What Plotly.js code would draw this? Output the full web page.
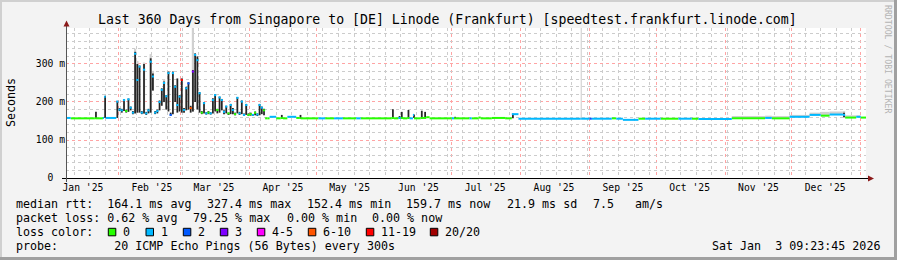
<!DOCTYPE html>
<html><head><meta charset="utf-8">
<script src="https://cdn.plot.ly/plotly-3.0.1.min.js"></script>
<style>html,body{margin:0;padding:0;background:#f3f3f3}#chart{width:897px;height:260px}</style>
</head><body><div id="chart"></div>
<script>
// ---------------- data ----------------
const rangeStart = '2025-01-08 09:23:45';
const rangeEnd   = '2026-01-03 09:23:45';

const lossLabels = ['0','1','2','3','4-5','6-10','11-19','20/20'];
const lossColors = ['#26ff00','#00b8ff','#0059ff','#7e00ff','#ff00ff','#ff5500','#ff0000','#a10000'];

const yTickVals = [0, 100, 200, 300];
const yTickText = ['0\u00a0\u00a0', '100 m', '200 m', '300 m'];

const monthLabelDates = ['2025-01-16','2025-02-16','2025-03-16','2025-04-16','2025-05-16','2025-06-16',
                         '2025-07-16','2025-08-16','2025-09-16','2025-10-16','2025-11-16','2025-12-16'];
const monthLabels = ["Jan '25","Feb '25","Mar '25","Apr '25","May '25","Jun '25",
                     "Jul '25","Aug '25","Sep '25","Oct '25","Nov '25","Dec '25"];

// sample times
const t = [
 '2025-01-08 09:23','2025-01-10 12:00','2025-01-21 09:00','2025-01-21 21:00','2025-01-25 00:00','2025-01-25 12:00','2025-01-26 06:00',
 '2025-01-31',
 '2025-02-01','2025-02-02','2025-02-03','2025-02-04','2025-02-05','2025-02-06','2025-02-07','2025-02-08','2025-02-09','2025-02-10',
 '2025-02-11','2025-02-12','2025-02-13','2025-02-14','2025-02-15','2025-02-16','2025-02-17','2025-02-18','2025-02-19','2025-02-20',
 '2025-02-21','2025-02-22','2025-02-23','2025-02-24','2025-02-25','2025-02-26','2025-02-27','2025-02-28',
 '2025-03-01','2025-03-02','2025-03-03','2025-03-04','2025-03-05','2025-03-06','2025-03-07','2025-03-08','2025-03-09','2025-03-10',
 '2025-03-11','2025-03-12','2025-03-13','2025-03-14','2025-03-15','2025-03-16','2025-03-17','2025-03-18','2025-03-19','2025-03-20',
 '2025-03-21','2025-03-22','2025-03-23','2025-03-24','2025-03-25','2025-03-26','2025-03-27','2025-03-28','2025-03-29','2025-03-30','2025-03-31',
 '2025-04-01','2025-04-02','2025-04-03','2025-04-04','2025-04-05','2025-04-06','2025-04-07','2025-04-08',
 '2025-04-09','2025-04-10','2025-04-13','2025-04-15','2025-04-16','2025-04-18','2025-04-22','2025-04-23 10:00','2025-04-24',
 '2025-05-02','2025-05-05','2025-05-09','2025-05-13','2025-05-19','2025-05-21',
 '2025-06-04','2025-06-05','2025-06-07','2025-06-08','2025-06-09','2025-06-11','2025-06-12','2025-06-13 12:00','2025-06-14',
 '2025-06-17','2025-06-18 12:00','2025-06-19 12:00','2025-06-21',
 '2025-07-01','2025-07-02','2025-07-09','2025-07-10','2025-07-13','2025-07-14','2025-07-19','2025-07-25','2025-07-28','2025-07-31',
 '2025-08-28','2025-08-28 12:00',
 '2025-09-01','2025-09-02','2025-09-11','2025-09-13','2025-09-16','2025-09-23','2025-09-26',
 '2025-10-03','2025-10-11','2025-10-17','2025-10-20',
 '2025-11-04','2025-11-19','2025-11-22','2025-11-30',
 '2025-12-09','2025-12-14','2025-12-18','2025-12-24','2025-12-25','2025-12-30','2026-01-01'
];

// median rtt (ms)
const med = [
 158,157,157,157,158,214,158,
 201,
 180,178,205,176,207,185,172,327,258,293,
 172,285,170,178,306,267,172,176,200,232,
 250,215,276,166,276,240,192,214,
 258,179,236,249,184,280,324,310,223,172,
 197,170,172,170,205,218,179,212,205,174,
 188,170,192,179,168,211,170,201,166,192,166,
 168,166,172,167,192,185,178,157,
 157,161,157,158,157,161,158,158,157,
 157,157,157,157,157,157,
 158,157,158,158,157,158,157,166,157,
 158,158,160,157,
 157,157,157,157,159,157,158,157,168,156,
 156,156,
 156,156,157,156,153,156,156,
 156,156,156,155,
 157,158,157,161,
 166,164,167,166,159,161,159
];

// loss class index (into lossLabels)
const loss = [
 1,0,0,0,1,1,1,
 1,
 1,1,1,0,1,1,1,1,1,1,
 1,1,1,1,1,1,1,1,1,1,
 1,1,1,2,1,1,1,1,
 6,1,1,2,5,3,1,1,1,0,
 1,1,0,1,1,1,0,1,1,1,
 1,0,1,1,0,1,1,1,1,1,0,
 0,1,0,1,1,1,0,0,
 0,1,0,0,0,1,0,0,0,
 1,0,1,0,1,0,
 0,0,1,0,0,0,1,1,0,
 0,0,0,0,
 1,0,1,0,0,0,0,0,1,1,
 1,1,
 2,1,0,1,1,0,1,
 0,1,0,1,
 0,1,0,1,
 1,0,1,1,0,1,0
];

// dark smoke low / high (ms)
const smLo = [
 null,null,156,null,null,158,null,
 158,
 176,172,176,172,174,178,168,170,172,172,
 168,170,166,170,172,230,168,170,178,190,
 200,180,175,164,168,200,172,175,
 172,172,178,180,172,175,200,180,172,168,
 170,167,168,167,170,175,170,172,178,168,
 170,166,168,168,165,170,166,168,164,166,163,
 164,163,165,163,165,168,165,null,
 null,null,null,156,null,null,null,156,null,
 null,null,null,null,null,null,
 156,null,156,156,null,156,null,158,null,
 156,156,null,null,
 null,156,null,null,null,null,156,null,157,null,
 null,null,
 null,null,null,null,null,null,null,
 null,null,null,null,
 null,null,null,null,
 null,null,null,160,null,null,null
];
const smHi = [
 null,null,174,null,null,216,null,
 203,
 184,182,207,180,209,188,176,332,300,296,
 176,300,174,182,315,275,176,180,204,236,
 254,218,280,172,280,244,262,218,
 262,184,240,252,190,284,328,320,226,176,
 200,173,176,173,210,220,182,214,208,178,
 190,172,195,184,172,213,174,204,170,195,170,
 172,168,175,170,195,188,182,null,
 null,null,null,166,null,null,null,166,null,
 null,null,null,null,null,null,
 181,null,163,174,null,179,null,167,null,
 177,174,null,null,
 null,161,null,null,null,null,160,null,169,null,
 null,null,
 null,null,null,null,null,null,null,
 null,null,null,null,
 null,null,null,null,
 null,null,null,172,null,null,null
];
// light (outer) smoke top (ms)
const greyHi = [
 null,null,null,null,null,null,null,
 null,
 null,null,null,null,null,null,null,340,308,null,
 null,304,null,null,326,282,null,null,null,null,
 260,null,null,null,null,null,null,null,
 null,null,null,null,null,400,null,null,null,null,
 null,null,null,null,null,null,null,null,null,null,
 null,null,null,null,null,null,null,null,null,null,null,
 null,null,null,null,null,null,null,null,
 null,null,null,null,null,null,null,null,null,
 null,null,null,null,null,null,
 null,null,null,null,null,null,null,null,null,
 null,null,null,null,
 null,null,null,null,null,null,null,null,null,null,
 400,null,
 null,null,null,null,null,null,null,
 null,null,null,null,
 163,164,163,166,
 172,174,175,176,165,165,null
];

// text
const titleText = 'Last 360 Days from Singapore to [DE] Linode (Frankfurt) [speedtest.frankfurt.linode.com]';
const yTitle = 'Seconds';
const rttStats  = ['median rtt:  164.1 ms avg', '327.4 ms max', '152.4 ms min', '159.7 ms now', '21.9 ms sd', '7.5', 'am/s'];
const lossStats = ['packet loss: 0.62 % avg', '79.25 % max', '0.00 % min', '0.00 % now'];
const lossColorLabel = 'loss color:';
const probeText = 'probe:        20 ICMP Echo Pings (56 Bytes) every 300s';
const stampText = 'Sat Jan  3 09:23:45 2026';
const creditText = 'RRDTOOL / TOBI OETIKER';

// ---------------- layout helpers ----------------
const FONT = 'DejaVu Sans Mono';
const L = 66, T = 28, W = 800, H = 150;
const px = x => (x - L) / W;
const py = y => (T + H - y) / H;

function ms(s){
  const p = s.split(' ');
  let tm = p[1] || '00:00';
  if (tm.length === 5) tm += ':00';
  return Date.parse(p[0] + 'T' + tm + 'Z');
}
const endMs = ms(rangeEnd);
const tMs = t.map(ms);
const dur = tMs.map((v, i) => (i < tMs.length - 1 ? tMs[i + 1] : endMs) - v);
const tNext = t.map((v, i) => i < t.length - 1 ? t[i + 1] : rangeEnd);
const DAY = 86400000;

const traces = [];
// light smoke (main x axis, drawn first / lowest)
{
  const x = [], base = [], h = [], w = [];
  greyHi.forEach((g, i) => {
    if (g == null) return;
    const b = Math.min(med[i], smLo[i] == null ? med[i] : smLo[i]) - 1;
    x.push(t[i]); base.push(b); h.push(g - b); w.push(dur[i]);
  });
  traces.push({type:'bar', x, y:h, base, width:w, offset:0,
    marker:{color:'#d0d0d0', line:{width:0}}, hoverinfo:'skip'});
}
// dark smoke (overlay axis x2, drawn above)
{
  const x = [], base = [], h = [];
  smLo.forEach((lo, i) => {
    if (lo == null) return;
    x.push(t[i]); base.push(lo); h.push(smHi[i] - lo);
  });
  traces.push({type:'bar', x, y:h, base, width:0.8*DAY, offset:0.1*DAY, xaxis:'x2',
    marker:{color:'#262626', line:{width:0}}, hoverinfo:'skip'});
}
// median line, one trace per loss class
lossColors.forEach((c, k) => {
  const x = [], y = [];
  med.forEach((m, i) => {
    if (loss[i] !== k) return;
    x.push(t[i], tNext[i], null); y.push(m, m, null);
  });
  if (x.length) traces.push({type:'scatter', mode:'lines', x, y, xaxis:'x2',
    line:{color:c, width:2}, connectgaps:false, hoverinfo:'skip'});
});

// ---------------- shapes ----------------
const shapes = [];
shapes.push({type:'line', xref:'paper', yref:'paper', x0:px(62), x1:px(868), y0:py(178.5), y1:py(178.5), line:{color:'#000', width:1}});
shapes.push({type:'line', xref:'paper', yref:'paper', x0:px(66.5), x1:px(66.5), y0:py(182), y1:py(25), line:{color:'#555', width:1}});
shapes.push({type:'path', xref:'paper', yref:'paper',
  path:`M ${px(868)} ${py(175.5)} L ${px(874)} ${py(178.5)} L ${px(868)} ${py(181.5)} Z`,
  fillcolor:'#8b1a1a', line:{width:0}});
shapes.push({type:'path', xref:'paper', yref:'paper',
  path:`M ${px(63.5)} ${py(26.5)} L ${px(66.5)} ${py(20.5)} L ${px(69.5)} ${py(26.5)} Z`,
  fillcolor:'#8b1a1a', line:{width:0}});
// frame
shapes.push({type:'rect', xref:'paper', yref:'paper', x0:px(0), x1:px(897), y0:py(0), y1:py(2), fillcolor:'#d0d0d0', line:{width:0}});
shapes.push({type:'rect', xref:'paper', yref:'paper', x0:px(0), x1:px(2), y0:py(0), y1:py(260), fillcolor:'#d0d0d0', line:{width:0}});
shapes.push({type:'rect', xref:'paper', yref:'paper', x0:px(894), x1:px(897), y0:py(0), y1:py(260), fillcolor:'#a0a0a0', line:{width:0}});
shapes.push({type:'rect', xref:'paper', yref:'paper', x0:px(0), x1:px(897), y0:py(257), y1:py(260), fillcolor:'#a0a0a0', line:{width:0}});

// ---------------- annotations ----------------
const ann = [];
const A = (text, x, y, opts={}) => ann.push(Object.assign({
  text, x:px(x), y:py(y), xref:'paper', yref:'paper', showarrow:false,
  xanchor:'left', yanchor:'middle', borderpad:0, borderwidth:0,
  font:{family:FONT, size:11.67, color:'#000'}
}, opts));

A(titleText, 447, 19.3, {xanchor:'center', font:{family:FONT, size:13.2, color:'#000'}});
A(yTitle, 11, 102, {xanchor:'center', textangle:-90});
A(creditText, 888, 59, {xanchor:'center', textangle:90, font:{family:FONT, size:8.2, color:'#b4b4b4'}});

const rttX = [16, 207.3, 306.5, 406, 506.5, 592.5, 635];
rttStats.forEach((s, i) => A(s, rttX[i], 204.3));
const lossX = [16, 193, 286.5, 372.3];
lossStats.forEach((s, i) => A(s, lossX[i], 218.3));
A(lossColorLabel, 16, 232.3);
const boxX = [108.3, 146, 183.3, 220.3, 257.3, 308.3, 366.3, 430.3];
lossLabels.forEach((lab, k) => {
  shapes.push({type:'rect', xref:'paper', yref:'paper',
    x0:px(boxX[k]), x1:px(boxX[k] + 7.5), y0:py(228.3), y1:py(235.8),
    fillcolor:lossColors[k], line:{color:'#000', width:1}});
  A(lab, boxX[k] + 15, 232.3);
});
A(probeText, 16, 246);
A(stampText, 880, 246, {xanchor:'right'});

// ---------------- layout ----------------
const tickFont = {family:FONT, size:9.7, color:'#000'};
const RED = '#ffa4a4', GRY = '#cccccc', DASH = 'dot';
const layout = {
  width:897, height:260,
  margin:{l:L, r:897 - L - W, t:T, b:260 - T - H, pad:0},
  paper_bgcolor:'#f3f3f3', plot_bgcolor:'#ffffff',
  showlegend:false, barmode:'overlay',
  // labels in the middle of each month, red month-boundary grid as minor grid
  xaxis:{type:'date', range:[rangeStart, rangeEnd],
    tickmode:'array', tickvals:monthLabelDates, ticktext:monthLabels,
    showgrid:false, ticks:'', showline:false, zeroline:false, tickfont:tickFont, ticklabelstandoff:2,
    minor:{tick0:'2025-01-01', dtick:'M1', showgrid:true, gridcolor:RED, griddash:DASH, gridwidth:1, ticks:''},
    fixedrange:true},
  // weekly grid
  xaxis2:{type:'date', overlaying:'x', anchor:'y', side:'bottom', range:[rangeStart, rangeEnd],
    tick0:'2025-01-05', dtick:7*DAY, showticklabels:false,
    showgrid:true, gridcolor:GRY, griddash:DASH, gridwidth:1, ticks:'', showline:false, zeroline:false, fixedrange:true},
  yaxis:{range:[0, 394.7], tickmode:'array', tickvals:yTickVals, ticktext:yTickText,
    ticks:'', showline:false, zeroline:false,
    showgrid:true, gridcolor:RED, griddash:DASH, gridwidth:1,
    minor:{dtick:20, showgrid:true, gridcolor:GRY, griddash:DASH, gridwidth:1, ticks:''},
    tickfont:tickFont, fixedrange:true},
  shapes, annotations:ann
};
Plotly.newPlot('chart', traces, layout, {staticPlot:true, displayModeBar:false});
</script></body></html>
